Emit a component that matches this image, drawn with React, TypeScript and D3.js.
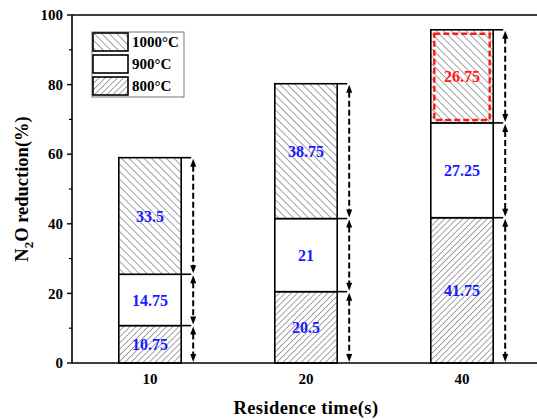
import * as d3 from "d3";

const categories = ["10", "20", "40"];
const seriesNames = ["800°C", "900°C", "1000°C"];
const v800 = [10.75, 20.5, 41.75];
const v900 = [14.75, 21, 27.25];
const v1000 = [33.5, 38.75, 26.75];
const yTicks = [0, 20, 40, 60, 80, 100];
const yMinorTicks = [10, 30, 50, 70, 90];

const W = 537;
const H = 420;
const MARGIN = { top: 15, right: -3, bottom: 57, left: 72 };
const FONT = "'Liberation Serif', 'Times New Roman', serif";
const BLUE = "#1a1aff";
const RED = "#ff1a1a";

export default function App() {
  const x = d3
    .scaleBand()
    .domain(categories)
    .range([MARGIN.left, W - MARGIN.right])
    .paddingInner(0.6)
    .paddingOuter(0.3);
  const y = d3.scaleLinear().domain([0, 100]).range([H - MARGIN.bottom, MARGIN.top]);

  const series = [v800, v900, v1000];
  const fills = ["url(#fwd)", "#fff", "url(#back)"];

  const stack = d3
    .stack<number>()
    .keys(["0", "1", "2"])
    .value((i, k) => series[+k][i]);
  const layers = stack(categories.map((_, i) => i));

  const bw = x.bandwidth();
  const arrowDx = 12;
  const head = (ax: number, ay: number, dir: number) =>
    `M${ax},${ay} L${ax - 3},${ay + dir * 8} L${ax + 3},${ay + dir * 8} Z`;

  return (
    <svg
      width={W}
      height={H}
      style={{ position: "absolute", left: 0, top: 0, background: "#fff" }}
      fontFamily={FONT}
    >
      <defs>
        <pattern id="back" width={5.3} height={5.3} patternUnits="userSpaceOnUse" patternTransform="rotate(-45)">
          <rect width={5.3} height={5.3} fill="#fff" />
          <line x1={0} y1={0} x2={0} y2={5.3} stroke="#333" strokeWidth={0.9} />
        </pattern>
        <pattern id="fwd" width={4.3} height={4.3} patternUnits="userSpaceOnUse" patternTransform="rotate(45)">
          <rect width={4.3} height={4.3} fill="#fff" />
          <line x1={0} y1={0} x2={0} y2={4.3} stroke="#333" strokeWidth={0.9} />
        </pattern>
      </defs>

      {/* bars */}
      {layers.map((layer, li) =>
        layer.map((d, i) => {
          const x0 = x(categories[i])!;
          return (
            <g key={`${li}-${i}`}>
              <rect
                x={x0}
                y={y(d[1])}
                width={bw}
                height={y(d[0]) - y(d[1])}
                fill={fills[li]}
                stroke="#000"
                strokeWidth={1.6}
              />
              <line
                x1={x0 + bw}
                x2={x0 + bw + arrowDx - 2}
                y1={y(d[1])}
                y2={y(d[1])}
                stroke="#000"
                strokeWidth={1.6}
              />
            </g>
          );
        })
      )}

      {/* red dashed highlight */}
      {(() => {
        const d = layers[2][2];
        const x0 = x(categories[2])!;
        return (
          <rect
            x={x0 + 3.5}
            y={y(d[1]) + 4}
            width={bw - 7}
            height={y(d[0]) - y(d[1]) - 7}
            fill="none"
            stroke={RED}
            strokeWidth={2.5}
            strokeDasharray="6,3"
          />
        );
      })()}

      {/* arrows */}
      {layers.map((layer, li) =>
        layer.map((d, i) => {
          const ax = x(categories[i])! + bw + arrowDx;
          const top = y(d[1]) + 1;
          const bot = y(d[0]) - 1;
          return (
            <g key={`a${li}-${i}`}>
              <line
                x1={ax}
                x2={ax}
                y1={top + 7}
                y2={bot - 7}
                stroke="#000"
                strokeWidth={2}
                strokeDasharray="6,3"
              />
              <path d={head(ax, top, 1)} fill="#000" />
              <path d={head(ax, bot, -1)} fill="#000" />
            </g>
          );
        })
      )}

      {/* value labels */}
      {layers.map((layer, li) =>
        layer.map((d, i) => (
          <text
            key={`t${li}-${i}`}
            x={x(categories[i])! + bw / 2}
            y={y((d[0] + d[1]) / 2)}
            dy="0.35em"
            textAnchor="middle"
            fontSize={16}
            fontWeight="bold"
            fill={li === 2 && i === 2 ? RED : BLUE}
          >
            {series[li][i]}
          </text>
        ))
      )}

      {/* axes */}
      <line x1={MARGIN.left} x2={W} y1={y(0)} y2={y(0)} stroke="#000" strokeWidth={1.6} />
      <line x1={MARGIN.left} x2={W} y1={y(100)} y2={y(100)} stroke="#000" strokeWidth={1.6} />
      <line x1={MARGIN.left} x2={MARGIN.left} y1={y(0)} y2={y(100)} stroke="#000" strokeWidth={1.6} />
      {yTicks.map((t) => (
        <g key={t}>
          <line x1={MARGIN.left - 5} x2={MARGIN.left} y1={y(t)} y2={y(t)} stroke="#000" strokeWidth={1.4} />
          <text x={MARGIN.left - 9} y={y(t)} dy="0.35em" textAnchor="end" fontSize={15} fontWeight="bold">
            {t}
          </text>
        </g>
      ))}
      {yMinorTicks.map((t) => (
        <line key={t} x1={MARGIN.left - 3} x2={MARGIN.left} y1={y(t)} y2={y(t)} stroke="#000" strokeWidth={1.2} />
      ))}
      {categories.map((c) => (
        <text
          key={c}
          x={x(c)! + bw / 2}
          y={y(0) + 16}
          dy="0.35em"
          textAnchor="middle"
          fontSize={15}
          fontWeight="bold"
        >
          {c}
        </text>
      ))}

      <text x={306} y={414} textAnchor="middle" fontSize={18.5} fontWeight="bold" letterSpacing={0.4}>
        Residence time(s)
      </text>
      <text
        transform={`translate(28,${(y(0) + y(100)) / 2}) rotate(-90)`}
        textAnchor="middle"
        fontSize={18.5}
        fontWeight="bold"
      >
        N<tspan fontSize={13} dy={5}>2</tspan>
        <tspan dy={-5}>O reduction(%)</tspan>
      </text>

      {/* legend */}
      <g>
        <rect x={92} y={32} width={92} height={65} fill="#fff" stroke="#555" strokeWidth={0.8} />
        {[2, 1, 0].map((si, row) => (
          <g key={si}>
            <rect
              x={93}
              y={33 + row * 22}
              width={35}
              height={18}
              fill={fills[si]}
              stroke="#000"
              strokeWidth={1.6}
            />
            <text x={132} y={42 + row * 22} dy="0.35em" fontSize={15} fontWeight="bold">
              {seriesNames[si]}
            </text>
          </g>
        ))}
      </g>
    </svg>
  );
}
